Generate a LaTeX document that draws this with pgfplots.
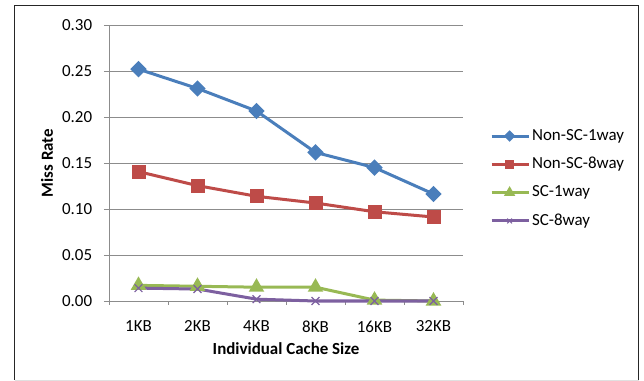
\documentclass[border=0pt]{standalone}
\usepackage{fontspec}
\setmainfont{Carlito}
\usepackage{pgfplots}
\pgfplotsset{compat=1.18}
\definecolor{cblue}{HTML}{4A7EBB}
\definecolor{cred}{HTML}{BE4B48}
\definecolor{cgreen}{HTML}{98B954}
\definecolor{cpurple}{HTML}{7D60A0}
\definecolor{gridc}{HTML}{8C8C8C}
\begin{document}
\fontsize{17}{20}\selectfont
\begin{tikzpicture}
\useasboundingbox (0,0) rectangle (644bp,381bp);
\draw[black!85, line width=0.8bp] (14.5bp,1bp) -- (14.5bp,375.5bp) -- (638.5bp,375.5bp) -- (638.5bp,1bp);
\draw[black!12, line width=0.8bp] (14.5bp,1bp) -- (638.5bp,1bp);
\begin{axis}[
  at={(109bp,80bp)}, anchor=south west,
  scale only axis, width=354bp, height=276bp,
  xmin=-0.5, xmax=5.5, ymin=0, ymax=0.30,
  axis x line*=bottom, axis y line*=left,
  axis line style={gridc, line width=0.8bp, -},
  xtick={0,...,5},
  xticklabels={1KB,2KB,4KB,8KB,16KB,32KB},
  minor xtick={-0.5,0.5,...,5.5},
  major x tick style={draw=none},
  minor x tick style={gridc, line width=0.8bp},
  minor tick length=4bp,
  ytick={0,0.05,...,0.30},
  ytick style={gridc, line width=0.8bp},
  major tick length=5bp,
  tick align=outside,
  ymajorgrids, grid style={gridc, line width=0.8bp},
  yticklabel style={/pgf/number format/.cd, fixed, fixed zerofill, precision=2, /tikz/.cd, xshift=-6bp},
  /pgf/number format/assume math mode=true,
  xticklabel style={yshift=-9bp},
  ticklabel style={font=\fontsize{17}{20}\selectfont},
  xlabel={\textbf{Individual Cache Size}},
  ylabel={\textbf{Miss Rate}},
  every axis x label/.style={at={(axis description cs:0.5,-0.174)}, anchor=center, font=\fontsize{17}{20}\selectfont},
  every axis y label/.style={at={(axis description cs:-0.175,0.5)}, anchor=center, rotate=90, font=\fontsize{17}{20}\selectfont},
  legend style={draw=none, fill=none, at={(1.076,0.63)}, anchor=north west,
    font=\fontsize{17}{20}\selectfont, row sep=10.5bp, inner sep=0pt,
    /tikz/every even column/.append style={column sep=1bp}},
  legend cell align=left,
  legend image code/.code={\draw[mark repeat=2, mark phase=2, /tikz/every mark/.append style={scale=0.6}] plot coordinates {(0bp,0bp) (18bp,0bp) (37bp,0bp)};},
  clip=false,
]
\addplot[cblue, line width=3bp, mark=square*, mark size=4.3bp, mark options={rotate=45}] coordinates {(0,0.252) (1,0.231) (2,0.2065) (3,0.1615) (4,0.145) (5,0.1163)};
\addlegendentry{Non-SC-1way}
\addplot[cred, line width=3bp, mark=square*, mark size=5.5bp] coordinates {(0,0.1406) (1,0.1254) (2,0.1138) (3,0.1065) (4,0.097) (5,0.0913)};
\addlegendentry{Non-SC-8way}
\addplot[cgreen, line width=3bp, mark=triangle*, mark size=6bp] coordinates {(0,0.017) (1,0.016) (2,0.015) (3,0.015) (4,0.001) (5,0.0)};
\addlegendentry{SC-1way}
\addplot[cpurple, line width=3bp, mark=x, mark size=5.5bp, mark options={line width=1.2bp}] coordinates {(0,0.014) (1,0.013) (2,0.002) (3,0.0) (4,0.0) (5,0.0)};
\addlegendentry{SC-8way}
\end{axis}
\end{tikzpicture}
\end{document}
